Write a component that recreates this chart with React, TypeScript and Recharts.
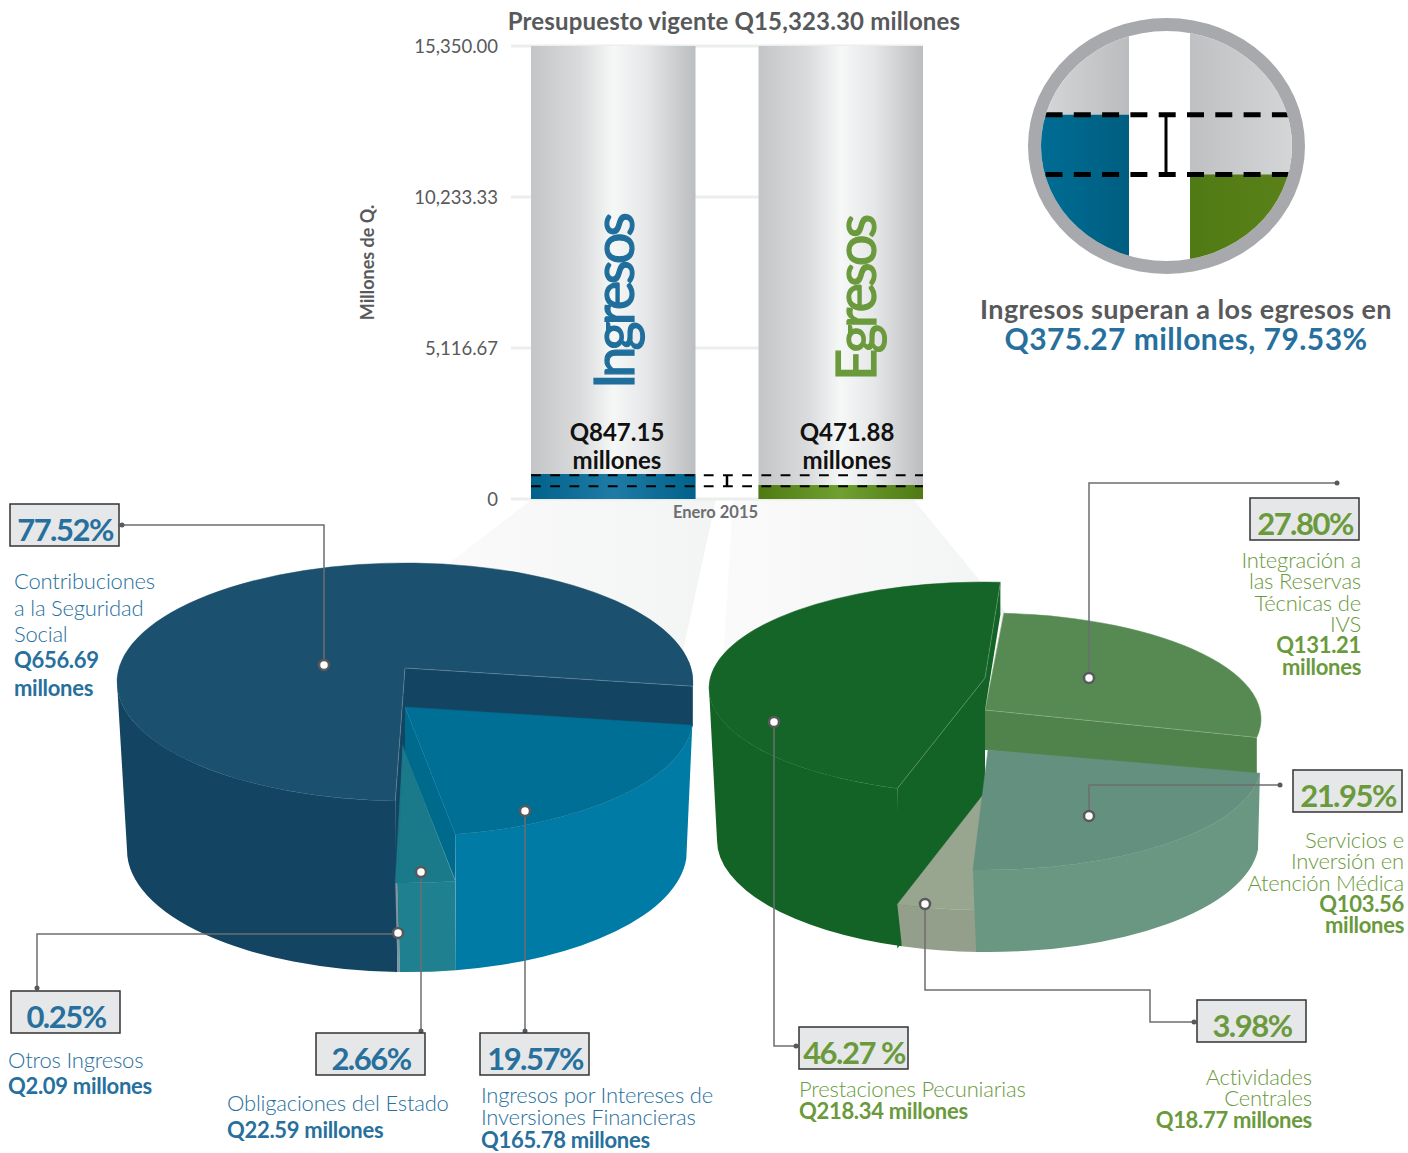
import React from 'react';
import {
  BarChart,
  Bar,
  XAxis,
  YAxis,
  CartesianGrid,
  ReferenceLine,
  PieChart,
  Pie,
} from 'recharts';

const FONT = 'Lato, "Open Sans", sans-serif';
const BLUE = '#27709D';
const GREEN = '#6A9A3C';
const GRAY_TEXT = '#58595B';

const periodo = 'Enero 2015';
const ingresosTotal = 847.15;
const egresosTotal = 471.88;
const escalaMax = 15350;
const escalaTicks = [0, 5116.67, 10233.33, 15350];
const escalaLabels = ['0', '5,116.67', '10,233.33', '15,350.00'];

const ingresosNombres = ['Contribuciones', 'Otros Ingresos', 'Obligaciones del Estado', 'Intereses'];
const ingresosMontos = [656.69, 2.09, 22.59, 165.78];
const egresosNombres = ['Reservas', 'Prestaciones', 'Actividades', 'Servicios'];
const egresosMontos = [131.21, 218.34, 18.77, 103.56];

const barRows = [{ periodo, ingresos: ingresosTotal, egresos: egresosTotal }];
const insetLow = -70;
const insetRows = [{ periodo, ingresos: [insetLow, ingresosTotal], egresos: [insetLow, egresosTotal] }];
const ingresosRows = ingresosNombres.map((name, i) => ({ name, value: ingresosMontos[i] }));
const egresosRows = egresosNombres.map((name, i) => ({ name, value: egresosMontos[i] }));

// how each slice is drawn in the tilted pie
interface Look {
  lift: number;
  apexDx: number;
  apexDy: number;
  trimStart: number;
  trimEnd: number;
  top: string;
  wall: string;
  startFace?: number;
  endFace?: number;
  face?: string;
  rim?: boolean;
}

const leftLooks: Record<string, Look> = {
  Contribuciones: { lift: 0, apexDx: 0, apexDy: -14, trimStart: 6, trimEnd: -3, top: '#1B506F', wall: '#134562', startFace: 40, endFace: 173, face: '#134562', rim: true },
  'Otros Ingresos': { lift: 82, apexDx: -2, apexDy: -19, trimStart: -3, trimEnd: -3.4, top: '#1B7A8A', wall: '#7C95A0' },
  'Obligaciones del Estado': { lift: 82, apexDx: -2, apexDy: -17, trimStart: -3.4, trimEnd: -1.5, top: '#1B7A8A', wall: '#1F808F' },
  Intereses: { lift: 35, apexDx: 0, apexDy: -10, trimStart: -1.5, trimEnd: 4, top: '#006F95', wall: '#007BA5', startFace: 46, face: '#006A8C' },
};

const rightLooks: Record<string, Look> = {
  Reservas: { lift: 31, apexDx: 0, apexDy: -9, trimStart: 4, trimEnd: 0, top: '#568A52', wall: '#50834C', startFace: 40, face: '#50834C', rim: true },
  Prestaciones: { lift: 0, apexDx: 0, apexDy: -10, trimStart: 0.7, trimEnd: -1.2, top: '#156528', wall: '#146326', startFace: 32, endFace: 160, face: '#146326', rim: true },
  Actividades: { lift: 116, apexDx: -2, apexDy: -9, trimStart: -1.2, trimEnd: 1, top: '#98A690', wall: '#949F8B' },
  Servicios: { lift: 76, apexDx: 3, apexDy: -14, trimStart: 0.5, trimEnd: 9, top: '#64917F', wall: '#6A9782' },
};

const rad = Math.PI / 180;
const onEllipse = (cx: number, cy: number, rx: number, ry: number, a: number) =>
  [cx + rx * Math.cos(a * rad), cy - ry * Math.sin(a * rad)] as [number, number];

const RIM = 'rgba(255,255,255,0.25)';

function makeSlice(looks: Record<string, Look>, ry: number, bottom: { cx: number; cy: number; rx: number; ry: number }) {
  return function Slice(props: any) {
    const look = looks[props.name];
    const { cx, cy, outerRadius: rx } = props;
    const s = props.startAngle + look.trimStart;
    const e = props.endAngle + look.trimEnd;
    const topY = cy + look.lift;
    const apex: [number, number] = [cx + look.apexDx, topY + look.apexDy];
    const p0 = onEllipse(cx, topY, rx, ry, s);
    const p1 = onEllipse(cx, topY, rx, ry, e);
    const large = e - s > 180 ? 1 : 0;
    const topPath = `M${apex} L${p0} A${rx} ${ry} 0 ${large} 0 ${p1} Z`;

    const w0 = Math.max(s, 180);
    const w1 = Math.min(e, 360);
    let wallPath = '';
    if (w1 > w0) {
      const a = onEllipse(cx, topY, rx, ry, w0);
      const b = onEllipse(cx, topY, rx, ry, w1);
      const c = onEllipse(bottom.cx, bottom.cy, bottom.rx, bottom.ry, w1);
      const d = onEllipse(bottom.cx, bottom.cy, bottom.rx, bottom.ry, w0);
      wallPath = `M${a} A${rx} ${ry} 0 0 0 ${b} L${c} A${bottom.rx} ${bottom.ry} 0 0 1 ${d} Z`;
    }
    const quad = (p: [number, number], depth: number) =>
      `M${apex} L${p} L${p[0]},${p[1] + depth} L${apex[0]},${apex[1] + depth} Z`;

    return (
      <g>
        {wallPath && <path d={wallPath} fill={look.wall} />}
        {look.endFace && <path d={quad(p1, look.endFace)} fill={look.face} />}
        {look.startFace && <path d={quad(p0, look.startFace)} fill={look.face} />}
        <path d={topPath} fill={look.top} stroke={look.top} strokeWidth={0.5} />
        {look.rim && <path d={`M${p0} L${apex} L${p1}`} fill="none" stroke={RIM} strokeWidth={0.8} />}
      </g>
    );
  };
}

const LeftSlice = makeSlice(leftLooks, 119, { cx: 407, cy: 850, rx: 280, ry: 122 });
const RightSlice = makeSlice(rightLooks, 106, { cx: 988, cy: 840, rx: 271, ry: 112 });

interface Callout {
  box: [number, number];
  text: string;
  color: string;
  line: string;
  marker: [number, number];
}

const callouts: Callout[] = [
  { box: [10, 504], text: '77.52%', color: BLUE, line: '122,525 324,525 324,665', marker: [324, 665] },
  { box: [11, 991], text: '0.25%', color: BLUE, line: '37,988 37,934 398,934', marker: [398, 933] },
  { box: [316, 1033], text: '2.66%', color: BLUE, line: '421,1031 421,872', marker: [421, 872] },
  { box: [480, 1033], text: '19.57%', color: BLUE, line: '525,1031 525,811', marker: [525, 811] },
  { box: [799, 1027], text: '46.27 %', color: GREEN, line: '796,1046 774,1046 774,722', marker: [774, 722] },
  { box: [1197, 1000], text: '3.98%', color: GREEN, line: '1194,1022 1150,1022 1150,990 925,990 925,904', marker: [925, 904] },
  { box: [1293, 770], text: '21.95%', color: GREEN, line: '1280,785 1089,785 1089,816', marker: [1089, 816] },
  { box: [1250, 498], text: '27.80%', color: GREEN, line: '1337,483 1089,483 1089,678', marker: [1089, 678] },
];

interface LabelLine {
  text: string;
  y: number;
  strong?: boolean;
}

interface LabelBlock {
  x: number;
  anchor: 'start' | 'end';
  color: string;
  lines: LabelLine[];
}

const labelBlocks: LabelBlock[] = [
  { x: 14, anchor: 'start', color: BLUE, lines: [
    { text: 'Contribuciones', y: 582 },
    { text: 'a la Seguridad', y: 609 },
    { text: 'Social', y: 635 },
    { text: 'Q656.69', y: 661, strong: true },
    { text: 'millones', y: 689, strong: true },
  ] },
  { x: 8, anchor: 'start', color: BLUE, lines: [
    { text: 'Otros Ingresos', y: 1061 },
    { text: 'Q2.09 millones', y: 1087, strong: true },
  ] },
  { x: 227, anchor: 'start', color: BLUE, lines: [
    { text: 'Obligaciones del Estado', y: 1104 },
    { text: 'Q22.59 millones', y: 1131, strong: true },
  ] },
  { x: 481, anchor: 'start', color: BLUE, lines: [
    { text: 'Ingresos por Intereses de', y: 1096 },
    { text: 'Inversiones Financieras', y: 1118 },
    { text: 'Q165.78 millones', y: 1141, strong: true },
  ] },
  { x: 799, anchor: 'start', color: GREEN, lines: [
    { text: 'Prestaciones Pecuniarias', y: 1090 },
    { text: 'Q218.34 millones', y: 1112, strong: true },
  ] },
  { x: 1312, anchor: 'end', color: GREEN, lines: [
    { text: 'Actividades', y: 1078 },
    { text: 'Centrales', y: 1099 },
    { text: 'Q18.77 millones', y: 1121, strong: true },
  ] },
  { x: 1361, anchor: 'end', color: GREEN, lines: [
    { text: 'Integración a', y: 561 },
    { text: 'las Reservas', y: 582 },
    { text: 'Técnicas de', y: 604 },
    { text: 'IVS', y: 625 },
    { text: 'Q131.21', y: 646, strong: true },
    { text: 'millones', y: 668, strong: true },
  ] },
  { x: 1404, anchor: 'end', color: GREEN, lines: [
    { text: 'Servicios e', y: 841 },
    { text: 'Inversión en', y: 862 },
    { text: 'Atención Médica', y: 884 },
    { text: 'Q103.56', y: 905, strong: true },
    { text: 'millones', y: 926, strong: true },
  ] },
];

const fullPage: React.CSSProperties = { position: 'absolute', left: 0, top: 0 };

function Gradient({ id, stops }: { id: string; stops: [string, string][] }) {
  return (
    <linearGradient id={id} x1="0" y1="0" x2="1" y2="0">
      {stops.map(([offset, color]) => (
        <stop key={offset} offset={offset} stopColor={color} />
      ))}
    </linearGradient>
  );
}

const barGray: [string, string][] = [['0', '#C4C5C7'], ['0.3', '#DADBDC'], ['0.5', '#F6F7F7'], ['0.7', '#E6E7E8'], ['1', '#BCBDBF']];

// dashed level line, optionally starting further right than the plot
const dashLine = (from: number | null, dash: string, width: number, dy: number) =>
  function DashLine(p: any) {
    return (
      <line
        x1={from ?? p.x1}
        x2={p.x2}
        y1={p.y1 + dy}
        y2={p.y2 + dy}
        stroke="#000"
        strokeWidth={width}
        strokeDasharray={dash}
      />
    );
  };

const mainDash = dashLine(531, '9.8 9.4', 2, 1.2);
const insetDash = dashLine(46.5, '17 11.3', 5, 0);

function MainBars() {
  return (
    <BarChart
      width={1000}
      height={530}
      data={barRows}
      margin={{ top: 46, right: 77, left: 356, bottom: 1 }}
      barSize={164.5}
      barGap={63}
      style={{ ...fullPage, fontFamily: FONT }}
    >
      <defs>
        <Gradient id="barGray" stops={barGray} />
        <Gradient id="barBlue" stops={[['0', '#00628A'], ['0.5', '#1F7BA6'], ['1', '#00628A']]} />
        <Gradient id="barGreen" stops={[['0', '#4F7A14'], ['0.5', '#70A030'], ['1', '#4F7A14']]} />
      </defs>
      <CartesianGrid horizontal vertical={false} stroke="#ECEDED" strokeWidth={3} />
      <XAxis
        dataKey="periodo"
        padding={{ left: 19, right: 0 }}
        axisLine={false}
        tickLine={false}
        tickMargin={1}
        tick={{ fontSize: 16.5, fontWeight: 700, fill: '#6D6E71', dx: -11 }}
      />
      <YAxis
        width={155}
        domain={[0, escalaMax]}
        ticks={escalaTicks}
        tickFormatter={(v: number) => escalaLabels[escalaTicks.indexOf(v)]}
        axisLine={false}
        tickLine={false}
        tickMargin={7}
        tick={{ fontSize: 18.5, fill: GRAY_TEXT }}
        label={{ value: 'Millones de Q.', angle: -90, position: 'insideLeft', offset: 12, dy: -10, fontSize: 18, fontWeight: 700, fill: GRAY_TEXT, textAnchor: 'middle' }}
      />
      <Bar dataKey="ingresos" fill="url(#barBlue)" background={{ fill: 'url(#barGray)' }} isAnimationActive={false} />
      <Bar dataKey="egresos" fill="url(#barGreen)" background={{ fill: 'url(#barGray)' }} isAnimationActive={false} />
      <ReferenceLine y={ingresosTotal} shape={mainDash} />
      <ReferenceLine y={egresosTotal} shape={mainDash} />
    </BarChart>
  );
}

function InsetBars() {
  return (
    <div
      style={{
        position: 'absolute',
        left: 1028,
        top: 18,
        width: 251,
        height: 230,
        border: '13px solid #A7A9AC',
        borderRadius: '50%',
        overflow: 'hidden',
      }}
    >
      <BarChart
        width={320}
        height={230}
        data={insetRows}
        margin={{ top: 0, right: 0, left: 0, bottom: 0 }}
        barSize={110}
        barGap={61}
        style={{ position: 'absolute', left: -42.5, top: 0 }}
      >
        <defs>
          <Gradient id="insetGrayL" stops={[['0', '#DCDDDE'], ['1', '#BBBCBE']]} />
          <Gradient id="insetGrayR" stops={[['0', '#BFC0C2'], ['1', '#D6D7D8']]} />
          <Gradient id="insetBlue" stops={[['0', '#007099'], ['1', '#005E80']]} />
          <Gradient id="insetGreen" stops={[['0', '#4F7A14'], ['1', '#5C8219']]} />
        </defs>
        <XAxis dataKey="periodo" hide />
        <YAxis hide domain={[insetLow, 1372]} allowDataOverflow />
        <Bar dataKey="ingresos" fill="url(#insetBlue)" background={{ fill: 'url(#insetGrayL)' }} isAnimationActive={false} />
        <Bar dataKey="egresos" fill="url(#insetGreen)" background={{ fill: 'url(#insetGrayR)' }} isAnimationActive={false} />
        <ReferenceLine y={ingresosTotal} shape={insetDash} />
        <ReferenceLine y={egresosTotal} shape={insetDash} />
      </BarChart>
    </div>
  );
}

function Funnels() {
  return (
    <svg width={1408} height={700} style={fullPage}>
      <defs>
        <linearGradient id="funnel" x1="0" y1="0" x2="1" y2="0">
          <stop offset="0" stopColor="#FAFAFA" />
          <stop offset="1" stopColor="#F3F4F4" />
        </linearGradient>
      </defs>
      <polygon points="531,500 716,500 682,655 440,570" fill="url(#funnel)" />
      <polygon points="733,500 914,500 1012,620 722,680" fill="url(#funnel)" />
    </svg>
  );
}

function Pies() {
  return (
    <PieChart width={1408} height={1153} margin={{ top: 0, right: 0, bottom: 0, left: 0 }} style={fullPage}>
      <Pie
        data={ingresosRows}
        dataKey="value"
        nameKey="name"
        cx={405}
        cy={682}
        outerRadius={288}
        startAngle={-8}
        endAngle={352}
        stroke="none"
        shape={LeftSlice}
        isAnimationActive={false}
      />
      <Pie
        data={egresosRows}
        dataKey="value"
        nameKey="name"
        cx={985}
        cy={688}
        outerRadius={276}
        startAngle={-14}
        endAngle={346}
        stroke="none"
        shape={RightSlice}
        isAnimationActive={false}
      />
    </PieChart>
  );
}

function Overlay() {
  return (
    <svg width={1408} height={1153} style={{ ...fullPage, fontFamily: FONT }}>
      <text x={734} y={30} textAnchor="middle" fontSize={24} fontWeight={700} letterSpacing={0.16} fill={GRAY_TEXT}>
        Presupuesto vigente Q15,323.30 millones
      </text>

      <text transform="translate(634,389) rotate(-90)" fontSize={56} letterSpacing={-4} stroke="#1F6E9C" strokeWidth={1.2} fill="#1F6E9C">Ingresos</text>
      <text transform="translate(876,381) rotate(-90)" fontSize={56} letterSpacing={-3.8} stroke={GREEN} strokeWidth={1.2} fill={GREEN}>Egresos</text>

      <text x={617} y={441} textAnchor="middle" fontSize={24} fontWeight={700} fill="#111">Q847.15</text>
      <text x={617} y={469} textAnchor="middle" fontSize={24} fontWeight={700} fill="#111">millones</text>
      <text x={847} y={441} textAnchor="middle" fontSize={24} fontWeight={700} fill="#111">Q471.88</text>
      <text x={847} y={469} textAnchor="middle" fontSize={24} fontWeight={700} fill="#111">millones</text>

      <path d="M727,476 V486" stroke="#000" strokeWidth={2.5} fill="none" />
      <path d="M1166,115 V175" stroke="#000" strokeWidth={3} fill="none" />

      <text x={1186} y={319} textAnchor="middle" fontSize={27} fontWeight={700} letterSpacing={0.4} fill={GRAY_TEXT}>
        Ingresos superan a los egresos en
      </text>
      <text x={1186} y={350} textAnchor="middle" fontSize={30} fontWeight={700} letterSpacing={0.45} fill={BLUE}>
        Q375.27 millones, 79.53%
      </text>

      {callouts.map((c) => (
        <g key={c.text}>
          <polyline points={c.line} fill="none" stroke="#6D6E71" strokeWidth={1.5} />
          <circle cx={Number(c.line.split(' ')[0].split(',')[0])} cy={Number(c.line.split(' ')[0].split(',')[1])} r={2.5} fill="#58595B" />
          <circle cx={c.marker[0]} cy={c.marker[1]} r={5} fill="#fff" stroke="#58595B" strokeWidth={2.5} />
          <rect x={c.box[0]} y={c.box[1]} width={109} height={42} fill="#E6E7E8" stroke="#333" strokeWidth={1.5} />
          <text
            x={c.box[0] + 55}
            y={c.box[1] + 37}
            textAnchor="middle"
            fontSize={31}
            fontWeight={700}
            letterSpacing={-1.5}
            fill={c.color}
          >
            {c.text}
          </text>
        </g>
      ))}

      {labelBlocks.map((block) =>
        block.lines.map((line) => (
          <text
            key={line.text + line.y}
            x={block.x}
            y={line.y + 7}
            textAnchor={block.anchor}
            fontSize={22}
            fontWeight={line.strong ? 700 : 300}
            letterSpacing={line.strong ? -0.3 : -0.2}
            fill={block.color}
          >
            {line.text}
          </text>
        )),
      )}
    </svg>
  );
}

export default function App() {
  return (
    <div style={{ position: 'absolute', left: 0, top: 0, width: 1408, height: 1153, background: '#fff', overflow: 'hidden' }}>
      <Funnels />
      <MainBars />
      <InsetBars />
      <Pies />
      <Overlay />
    </div>
  );
}
